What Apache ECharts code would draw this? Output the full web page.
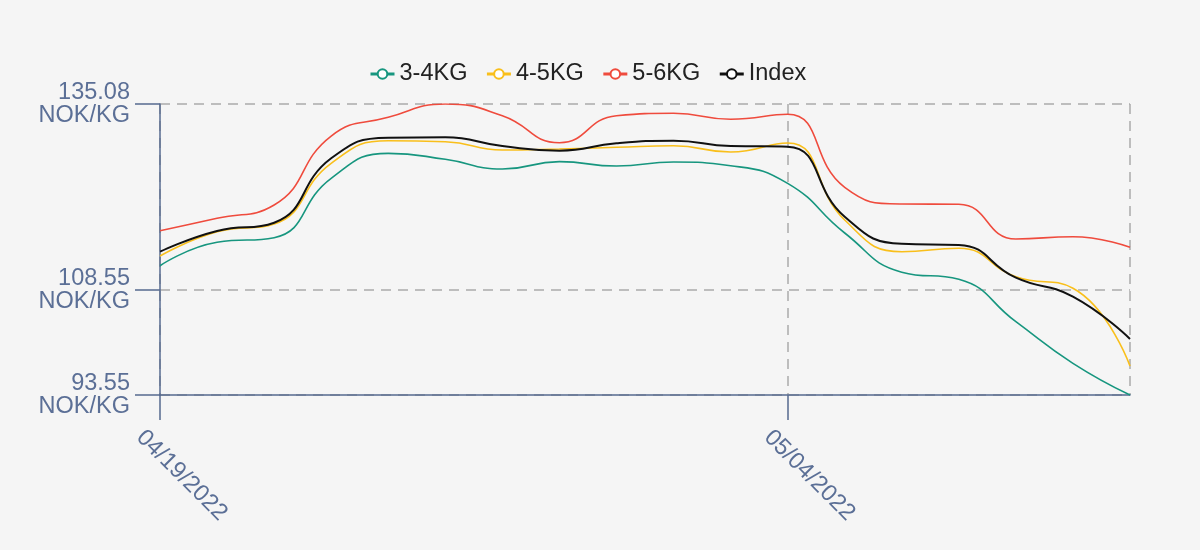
<!DOCTYPE html>
<html>
<head>
<meta charset="utf-8">
<script src="https://cdn.jsdelivr.net/npm/echarts@6/dist/echarts.min.js"></script>
<style>
html,body{margin:0;padding:0;background:#f5f5f5;}
#chart{width:1200px;height:550px;}
</style>
</head>
<body>
<div id="chart"></div>
<script>
const dates = ['04/19/2022','04/20/2022','04/21/2022','04/22/2022','04/25/2022','04/26/2022','04/27/2022','04/28/2022','04/29/2022','05/02/2022','05/03/2022','05/04/2022','05/05/2022','05/06/2022','05/09/2022','05/10/2022','05/11/2022','05/12/2022'];
const s34 = [112.00,115.34,116.00,124.48,128.04,127.19,125.80,126.85,126.23,126.80,126.27,123.76,116.67,111.08,110.06,104.01,98.07,93.55];
const s45 = [113.39,116.86,117.95,126.62,129.84,129.70,128.51,128.66,128.90,129.13,128.23,129.51,118.52,114.00,114.49,110.43,108.78,97.69];
const s56 = [117.00,118.77,120.67,130.51,133.18,135.08,133.41,129.56,133.41,133.75,132.90,133.61,123.19,120.81,120.77,115.81,116.14,114.63];
const sIdx = [114.00,116.96,118.14,127.33,130.27,130.33,129.09,128.42,129.47,129.84,129.09,128.99,119.00,115.12,114.96,110.29,107.58,101.54];
const yTicks = [93.55,108.55,135.08];
const labeledDates = ['04/19/2022','05/04/2022'];
const splitDates = ['04/19/2022','05/04/2022','05/12/2022'];

const FONT = "'Liberation Sans', Arial, Helvetica, sans-serif";
const axisColor = '#566a8f';
const labelColor = '#5b6f96';
const splitStyle = {color:'#aaaaaa', width:1.5, type:[10,7]};

const chart = echarts.init(document.getElementById('chart'));
function mk(name, data, color, w){
  return {name, type:'line', data, smooth:true, showSymbol:false, symbol:'emptyCircle', symbolSize:8,
    lineStyle:{color, width:w}, itemStyle:{color}, emphasis:{disabled:true}};
}
chart.setOption({
  backgroundColor:'#f5f5f5',
  animation:false,
  textStyle:{fontFamily:FONT},
  legend:{top:57, left:364, itemGap:18, itemWidth:24, itemHeight:12,
    lineStyle:{width:3}, itemStyle:{borderWidth:2.5},
    textStyle:{fontSize:23.5, color:'#222', fontFamily:FONT},
    data:['3-4KG','4-5KG','5-6KG','Index']},
  grid:{left:160, right:70, top:104, bottom:155},
  xAxis:{type:'category', boundaryGap:false, data:dates,
    axisLine:{lineStyle:{color:axisColor, width:1.5}},
    axisTick:{show:true, length:25, interval:(i,v)=>labeledDates.includes(v), lineStyle:{color:axisColor, width:1.5}},
    axisLabel:{interval:(i,v)=>labeledDates.includes(v), rotate:-45, margin:19, align:'left', verticalAlign:'top',
      padding:[16,0,0,0], color:labelColor, fontSize:23.5, fontFamily:FONT},
    splitLine:{show:true, interval:(i,v)=>splitDates.includes(v), lineStyle:splitStyle}},
  yAxis:{type:'value', min:93.55, max:135.08,
    axisLine:{show:true, lineStyle:{color:axisColor, width:1.5}},
    axisTick:{show:true, length:25, customValues:yTicks, lineStyle:{color:axisColor, width:1.5}},
    axisLabel:{customValues:yTicks, margin:30, color:labelColor, fontSize:23.5, lineHeight:23, padding:[10,0,0,0], fontFamily:FONT,
      formatter:v=>v.toFixed(2)+'\nNOK/KG'},
    splitLine:{show:true, lineStyle:splitStyle}},
  series:[
    mk('3-4KG', s34, '#17967f', 1.6),
    mk('4-5KG', s45, '#f9bf1b', 1.6),
    mk('5-6KG', s56, '#ef4b3d', 1.6),
    mk('Index', sIdx, '#111111', 2)
  ]
});
</script>
</body>
</html>
